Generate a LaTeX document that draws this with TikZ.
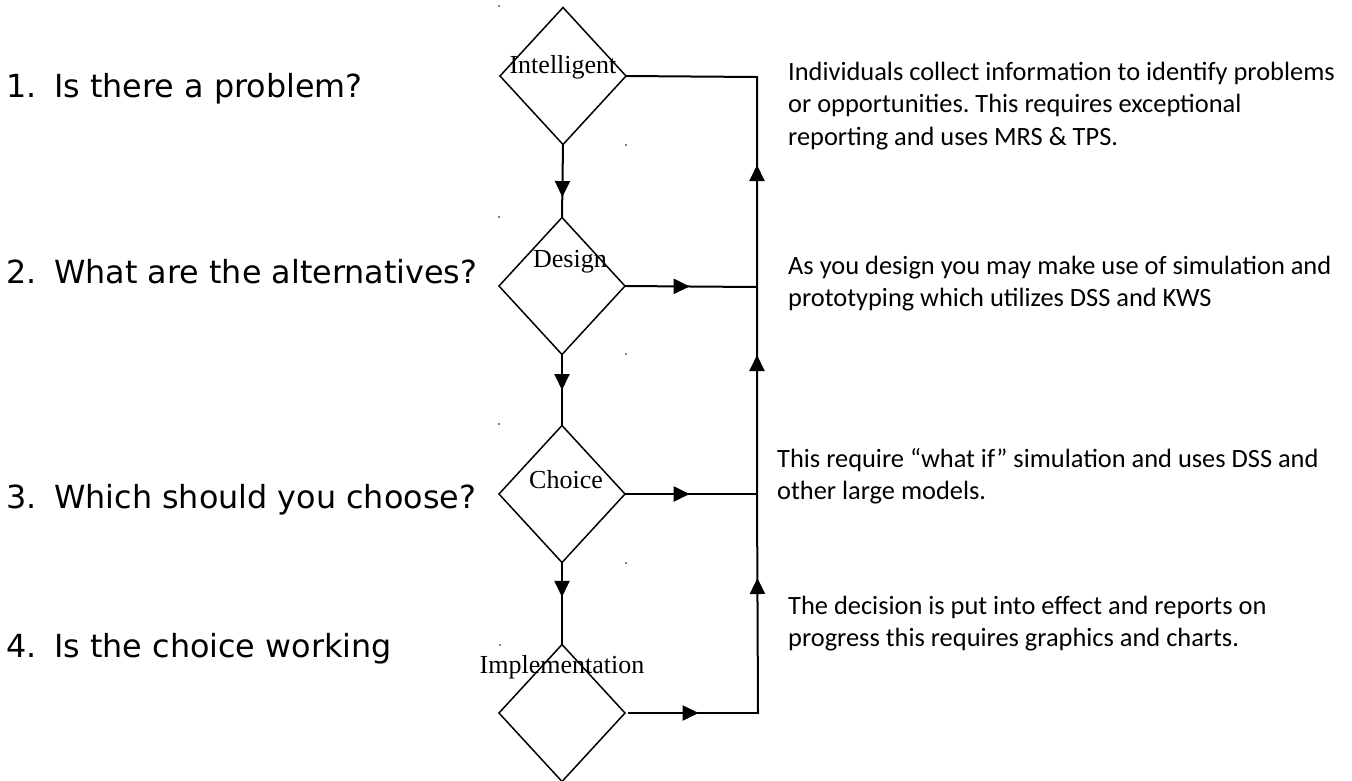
\documentclass[tikz,border=0pt]{standalone}
\usepackage{fontspec}
\setmainfont{Liberation Serif}
\newfontfamily\qfont{DejaVu Sans}
\newfontfamily\notefont{Carlito}
\usetikzlibrary{shapes.geometric,arrows.meta,decorations.markings}
\frenchspacing

\tikzset{
  stage/.style={diamond, draw, line width=1.5pt, minimum width=126pt,
    minimum height=137pt, inner sep=0pt, outer sep=0pt},
  stagelabel/.style={anchor=base, inner sep=0pt, font=\fontsize{26}{30}\selectfont},
  question/.style={anchor=base west, inner sep=0pt, font=\qfont\fontsize{31.8}{36}\selectfont},
  note/.style={anchor=base west, inner sep=0pt, font=\notefont\fontsize{26.4}{32.5}\selectfont},
  flow/.style={line width=2pt},
  flowtip/.tip={Triangle[length=16pt,width=15pt]},
  midarrow/.style={flow, postaction={decorate},
    decoration={markings, mark=at position #1 with {\arrow{flowtip}}}},
}

\begin{document}
\begin{tikzpicture}[x=1pt,y=-1pt]
  \useasboundingbox (0,0) rectangle (1352,780);

  % questions down the left side
  \node[question] (q1) at (6,97)  {\makebox[48pt][l]{1.}Is there a problem?};
  \node[question] (q2) at (6,283) {\makebox[48pt][l]{2.}What are the alternatives?};
  \node[question] (q3) at (6,508) {\makebox[48pt][l]{3.}Which should you choose?};
  \node[question] (q4) at (6,657) {\makebox[48pt][l]{4.}Is the choice working};

  % decision stages
  \node[stage] (d1) at (563,76)  {};
  \node[stage] (d2) at (562,286) {};
  \node[stage] (d3) at (562,494) {};
  \node[stage] (d4) at (562,713) {};

  \node[stagelabel] (l1) at (563,73)  {Intelligent};
  \node[stagelabel] (l2) at (570,267) {Design};
  \node[stagelabel] (l3) at (566,488) {Choice};
  \node[stagelabel] (l4) at (562,673) {Implementation};

  % corner specks of the stage boxes
  \foreach \p in {(499,6),(626,145),(499,217),(626,354),(499,424),(626,563),(500,645)}
    \fill \p circle (0.8pt);

  % return line on the right
  \coordinate (j1) at (757,77);
  \coordinate (j2) at (757,287);
  \coordinate (j3) at (757,494);
  \coordinate (j4) at (758,713);

  % flow downward through the stages
  \draw[midarrow=0.72] (d1.south) -- (d2.north);
  \draw[midarrow=0.5]  (d2.south) -- (d3.north);
  \draw[midarrow=0.42] (d3.south) -- (d4.north);

  % from each stage to the return line
  \draw[midarrow=0.49] (d2.east) -- (j2);
  \draw[midarrow=0.49] (d3.east) -- (j3);
  \draw[midarrow=0.54, line cap=rect] ([xshift=4pt]d4.east) -- (j4);

  % return line back up to the first stage
  \draw[flow, postaction={decorate},
    decoration={markings,
      mark=at position 135pt with {\arrow{flowtip}},
      mark=at position 358pt with {\arrow{flowtip}},
      mark=at position 548pt with {\arrow{flowtip}}}]
    (j4) -- (j3) -- (j2) -- (j1) -- (d1.east);

  % notes on the right
  \node[note] (n1) at (788,80) {\begin{tabular}[t]{@{}l@{}}
    Individuals collect information to identify problems\\
    or opportunities. This requires exceptional\\
    reporting and uses MRS \& TPS.\end{tabular}};
  \node[note] (n2) at (788,274) {\begin{tabular}[t]{@{}l@{}}
    As you design you may make use of simulation and\\
    prototyping which utilizes DSS and KWS\end{tabular}};
  \node[note] (n3) at (777,467) {\begin{tabular}[t]{@{}l@{}}
    This require “what if” simulation and uses DSS and\\
    other large models.\end{tabular}};
  \node[note] (n4) at (788,614) {\begin{tabular}[t]{@{}l@{}}
    The decision is put into effect and reports on\\
    progress this requires graphics and charts.\end{tabular}};
\end{tikzpicture}
\end{document}
